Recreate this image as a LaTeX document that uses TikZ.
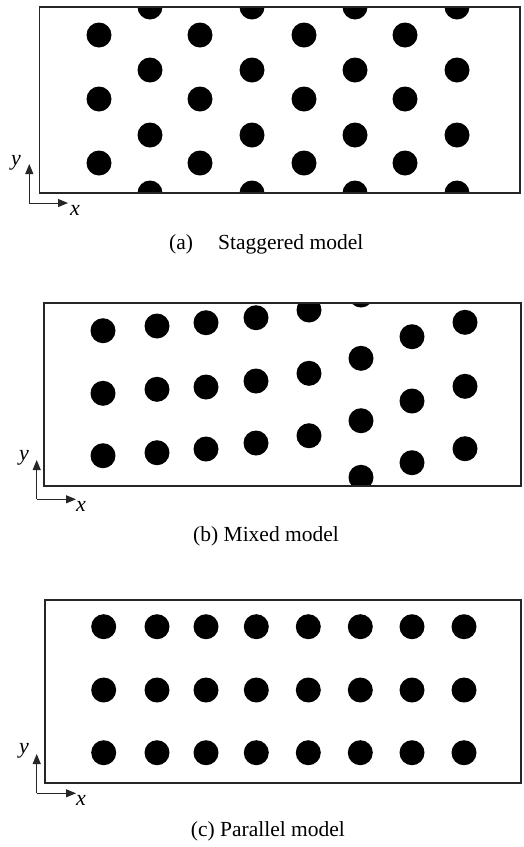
\documentclass[tikz,border=0pt]{standalone}
\usepackage{fontspec}
\setmainfont{Liberation Serif}
\usetikzlibrary{arrows.meta}
\tikzset{
  panelbox/.style={draw=black!85, line width=1.3pt},
  hole/.style={fill=black},
  axisarrow/.style={line width=1pt, draw=black!85, -{Triangle[length=10pt,width=8pt]}},
  axislabel/.style={font=\fontsize{22}{24}\selectfont\itshape, inner sep=0pt},
  caption/.style={font=\fontsize{21.5}{24}\selectfont, inner sep=0pt, anchor=west}
}
\begin{document}
\begin{tikzpicture}[x=1pt,y=-1pt]
\useasboundingbox (0,0) rectangle (523,847);
\fill[white] (0,0) rectangle (523,847);
\def\rr{12.5}
% ---------- (a) staggered ----------
\begin{scope}
\clip (39.5,7) rectangle (520,193);
\foreach \x in {99,200,304,405}{
  \foreach \y in {35,99,163}{\fill[hole] (\x,\y) circle (\rr);}}
\foreach \x in {150,252,355,457}{
  \foreach \y in {7,70,135,193}{\fill[hole] (\x,\y) circle (\rr);}}
\end{scope}
\draw[panelbox] (39.5,7) rectangle (520,193);
\coordinate (oa) at (29.3,203);
\coordinate (ya) at (29.3,164);
\coordinate (xa) at (68,203);
\draw[axisarrow] (oa) -- (ya);
\draw[axisarrow] (oa) -- (xa);
\node[axislabel] (lya) at (16,163) {y};
\node[axislabel] (lxa) at (75,210) {x};
\node[caption] (capa1) at (169,244) {(a)};
\node[caption] (capa2) at (218,244) {Staggered model};
% ---------- (b) mixed ----------
\begin{scope}
\clip (44,303) rectangle (521,486);
\foreach \x/\a/\b/\c in {103/330.7/393.3/455.7, 157/326/389.3/452.7, 206/322.7/387/449, 256/317.7/381/443, 309/310/373.3/435.7, 361/358.3/420.7/477.3, 412/336.7/401/462.7, 465/322.3/386.3/448.7}{
  \fill[hole] (\x,\a) circle (\rr);
  \fill[hole] (\x,\b) circle (\rr);
  \fill[hole] (\x,\c) circle (\rr);}
\fill[hole] (309,497.5) circle (\rr);
\fill[hole] (361,295) circle (\rr);
\end{scope}
\draw[panelbox] (44,303) rectangle (521,486);
\coordinate (ob) at (36.7,499.3);
\coordinate (yb) at (36.7,460);
\coordinate (xb) at (76,499.3);
\draw[axisarrow] (ob) -- (yb);
\draw[axisarrow] (ob) -- (xb);
\node[axislabel] (lyb) at (24,458) {y};
\node[axislabel] (lxb) at (81,506) {x};
\node[caption] (capb) at (193,536) {(b) Mixed model};
% ---------- (c) parallel ----------
\foreach \x in {103.7,157,206,256.3,308.3,360.3,412,464}{
  \foreach \y in {626.7,690,752.7}{\fill[hole] (\x,\y) circle (\rr);}}
\draw[panelbox] (45,600) rectangle (521,783);
\coordinate (oc) at (36.7,793.3);
\coordinate (yc) at (36.7,754);
\coordinate (xc) at (76,793.3);
\draw[axisarrow] (oc) -- (yc);
\draw[axisarrow] (oc) -- (xc);
\node[axislabel] (lyc) at (24,751) {y};
\node[axislabel] (lxc) at (81,800) {x};
\node[caption] (capc) at (190.7,831) {(c) Parallel model};
\end{tikzpicture}
\end{document}
